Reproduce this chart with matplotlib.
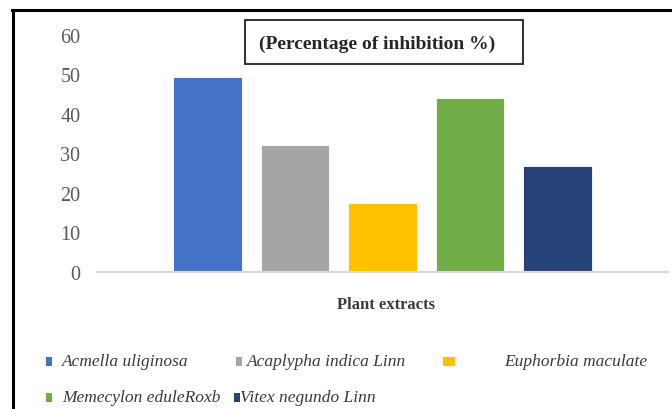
import numpy as np
import matplotlib.pyplot as plt
from matplotlib.lines import Line2D
from matplotlib.patches import Rectangle


# data
extracts = ["Acmella uliginosa", "Acaplypha indica Linn", "Euphorbia maculate",
            "Memecylon eduleRoxb", "Vitex negundo Linn"]
inhibition = [49.4, 32.2, 17.3, 44.0, 26.8]
colors = ["#4472C4", "#A5A5A5", "#FFC000", "#70AD47", "#264478"]
yticks = [0, 10, 20, 30, 40, 50, 60]

W, H = 672, 410
serif = ["Liberation Serif", "DejaVu Serif"]


def main():
    fig = plt.figure(figsize=(W / 100, H / 100), dpi=100)
    ax = fig.add_axes([97 / W, 1 - 272.7 / H, (668 - 97) / W, (272.7 - 35.7) / H])

    x = np.arange(len(extracts))
    ax.bar(x, inhibition, width=0.78, color=colors, edgecolor="white", linewidth=0.6)

    ax.set_xlim(-1.26, len(extracts) - 1 + 1.26)
    ax.set_ylim(0, 60)
    ax.set_yticks(yticks)
    ax.set_yticklabels([str(v) for v in yticks], family=serif, fontsize=14.5, color="#595959")
    ax.set_xticks([])
    ax.tick_params(axis="y", length=0, pad=12)
    for s in ["left", "right", "top"]:
        ax.spines[s].set_visible(False)
    ax.spines["bottom"].set_color("#d9d9d9")
    ax.spines["bottom"].set_linewidth(1.5)

    # boxed title
    fig.text(377 / W, 1 - 44 / H, "(Percentage of inhibition %)", ha="center", va="center",
             family=serif, fontsize=14, fontweight="bold", color="#262626")
    fig.add_artist(Rectangle((245 / W, 1 - 65 / H), (523 - 245) / W, (65 - 21) / H,
                             transform=fig.transFigure, fill=False, edgecolor="#222222", linewidth=1.3))

    fig.text(386 / W, 1 - 305 / H, "Plant extracts", ha="center", va="center",
             family=serif, fontsize=12, fontweight="bold", color="#3a3a3a")

    # legend laid out by hand, like the Excel one
    marker_x = [46, 236, 443, 46, 234]
    marker_w = [6, 6, 12, 6, 6]
    text_x = [62, 247, 504, 62, 240]
    row_y = [362, 362, 362, 398, 398]
    for i, name in enumerate(extracts):
        fig.add_artist(Rectangle((marker_x[i] / W, 1 - (row_y[i] + 5) / H), marker_w[i] / W, 9 / H,
                                 transform=fig.transFigure, facecolor=colors[i], edgecolor="none"))
        fig.text(text_x[i] / W, 1 - row_y[i] / H, name, ha="left", va="center",
                 family=serif, style="italic", fontsize=12.5, color="#3a3a3a")

    # outer frame (left and top edges visible)
    fig.add_artist(Line2D([13 / W, 13 / W], [0, 1 - 11 / H], transform=fig.transFigure,
                          color="black", linewidth=2.2))
    fig.add_artist(Line2D([12 / W, 1], [1 - 11 / H, 1 - 11 / H], transform=fig.transFigure,
                          color="black", linewidth=2.2))

    fig.savefig("out.png", dpi=100)


main()
